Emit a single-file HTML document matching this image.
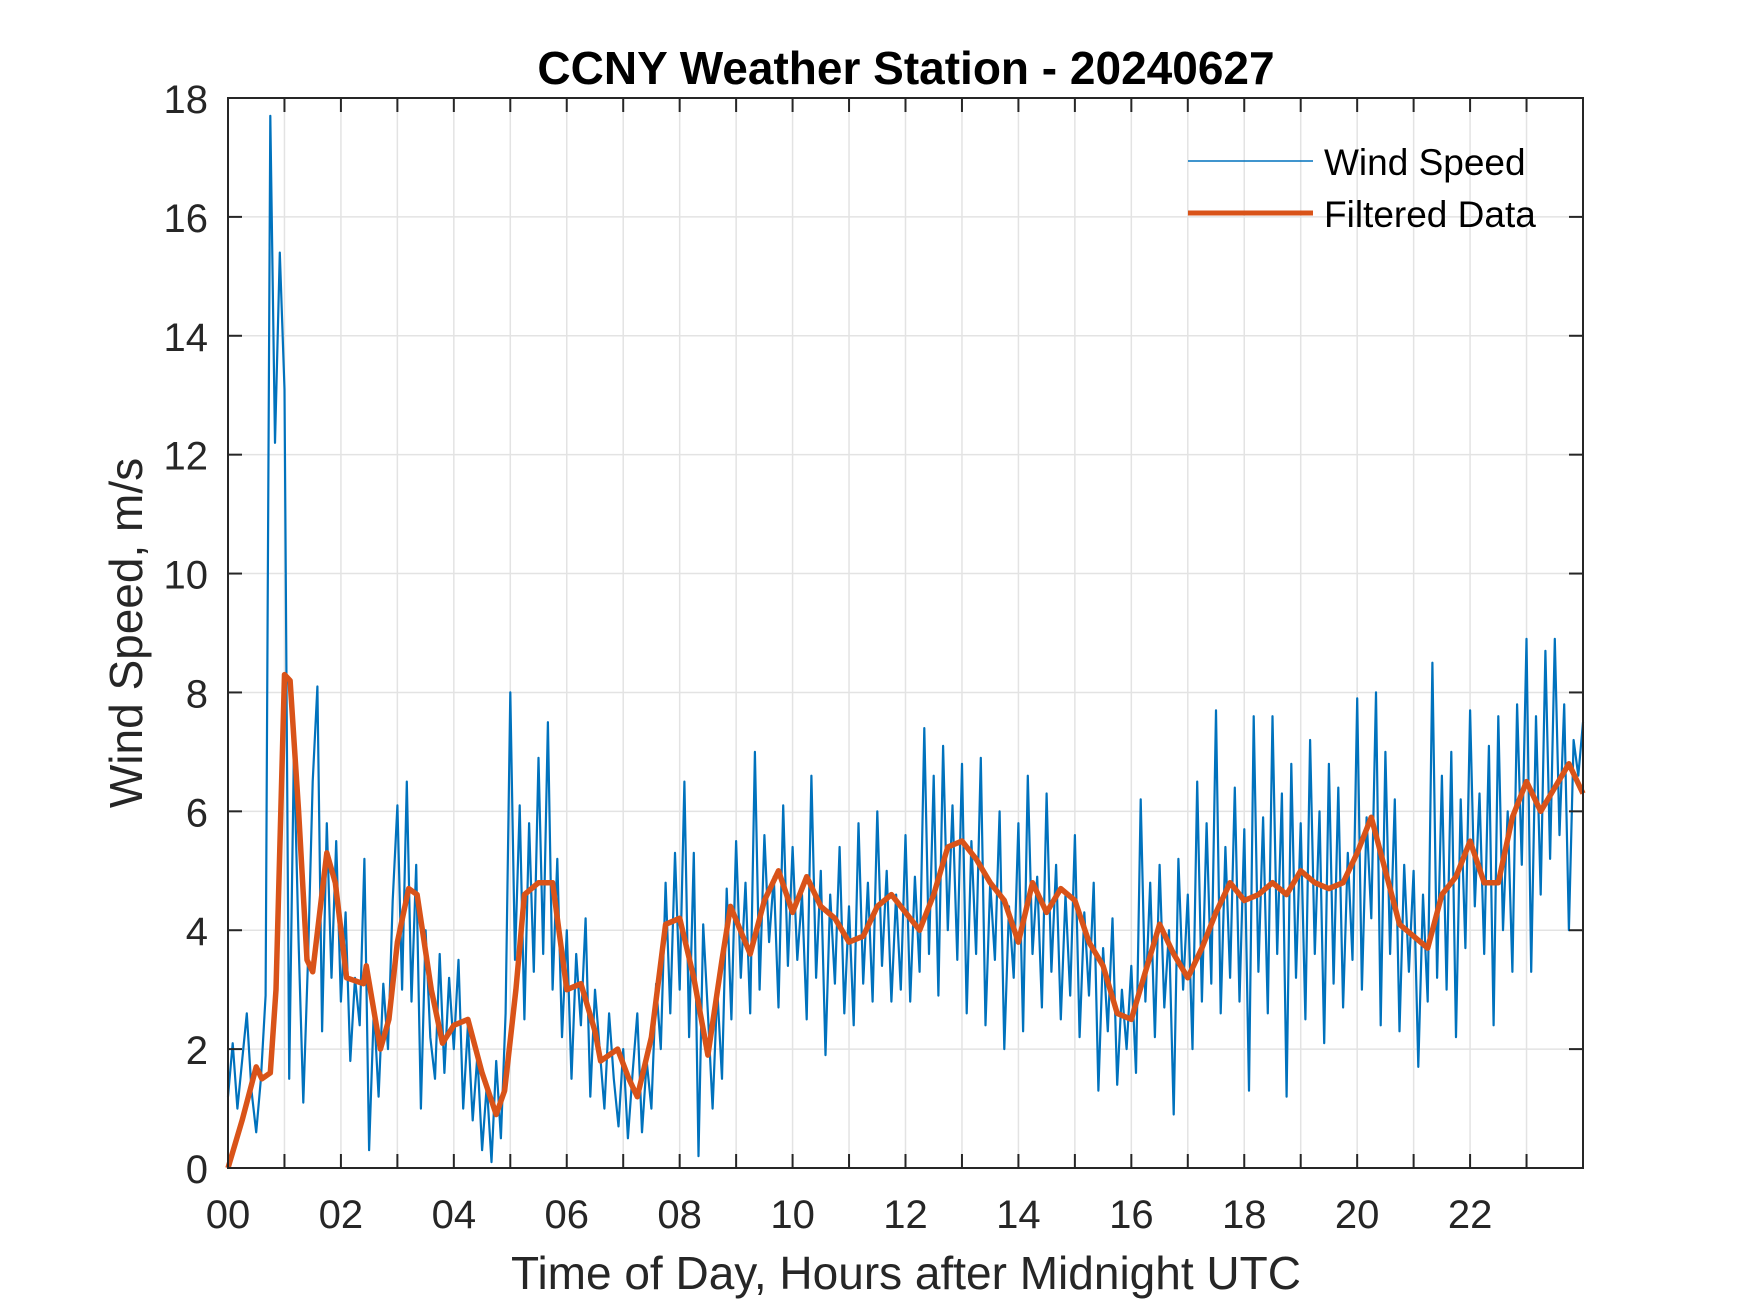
<!DOCTYPE html>
<html><head><meta charset="utf-8"><style>
html,body{margin:0;padding:0;background:#fff;}
svg{display:block;}
text{font-family:"Liberation Sans",Arial,sans-serif;fill:#262626;}
</style></head><body>
<svg id="chart" width="1750" height="1313" viewBox="0 0 1750 1313" xmlns="http://www.w3.org/2000/svg">
<rect width="1750" height="1313" fill="#fff"/>
<g id="grid"></g>
<g id="series"></g>
<g id="axes"></g>
<text x="906" y="84" text-anchor="middle" font-size="46" font-weight="bold" style="fill:#000">CCNY Weather Station - 20240627</text>
<text x="906" y="1289" text-anchor="middle" font-size="46">Time of Day, Hours after Midnight UTC</text>
<text transform="translate(142,633) rotate(-90)" text-anchor="middle" font-size="46">Wind Speed, m/s</text>
<g>
<line x1="1188" y1="161" x2="1313" y2="161" stroke="#0072BD" stroke-width="1.5"/>
<text x="1324" y="175" font-size="37" style="fill:#000">Wind Speed</text>
<line x1="1188" y1="213" x2="1313" y2="213" stroke="#D95319" stroke-width="5"/>
<text x="1324" y="227" font-size="37" style="fill:#000">Filtered Data</text>
</g>
</svg>
<script>
const rawValues = [
1.2,2.1,1.0,1.8,2.6,1.3,0.6,1.5,2.9,17.7,12.2,15.4,
13.1,1.5,7.0,3.8,1.1,3.5,6.5,8.1,2.3,5.8,3.2,5.5,
2.8,4.3,1.8,3.2,2.4,5.2,0.3,2.7,1.2,3.1,2.0,4.5,
6.1,3.0,6.5,2.8,5.1,1.0,4.0,2.2,1.5,3.6,1.6,3.2,
2.0,3.5,1.0,2.4,0.8,1.9,0.3,1.4,0.1,1.8,0.5,2.6,
8.0,3.5,6.1,2.5,5.8,3.3,6.9,3.6,7.5,3.0,5.2,2.2,
4.0,1.5,3.6,2.4,4.2,1.2,3.0,2.0,1.0,2.6,1.5,0.7,
2.0,0.5,1.6,2.6,0.6,1.8,1.0,3.1,2.0,4.8,2.6,5.3,
3.0,6.5,2.2,5.3,0.2,4.1,2.6,1.0,3.0,1.5,4.7,2.5,
5.5,3.2,4.8,2.6,7.0,3.0,5.6,3.8,4.9,2.7,6.1,3.4,
5.4,3.5,4.6,2.5,6.6,3.2,5.0,1.9,4.6,3.1,5.4,2.6,
4.4,2.4,5.8,3.1,4.8,2.8,6.0,3.4,5.0,2.8,4.6,3.0,
5.6,2.8,4.9,3.3,7.4,3.6,6.6,2.9,7.1,4.0,6.1,3.5,
6.8,2.6,5.5,3.6,6.9,2.4,4.8,3.5,6.0,2.0,4.4,3.2,
5.8,2.3,6.6,3.6,4.9,2.7,6.3,3.3,5.1,2.5,4.6,2.9,
5.6,2.2,4.3,2.9,4.8,1.3,3.7,2.3,4.2,1.4,3.0,2.0,
3.4,1.6,6.2,2.8,4.8,2.2,5.1,2.7,4.0,0.9,5.2,3.0,
4.6,2.0,6.5,2.8,5.8,3.1,7.7,2.6,5.4,3.2,6.4,2.8,
5.7,1.3,7.6,3.3,5.9,2.6,7.6,3.6,6.3,1.2,6.8,3.2,
5.8,2.5,7.2,3.6,6.0,2.1,6.8,3.1,6.4,2.7,5.3,3.5,
7.9,3.0,5.9,4.2,8.0,2.4,7.0,3.6,6.2,2.3,5.1,3.3,
5.0,1.7,4.6,2.8,8.5,3.2,6.6,3.0,7.0,2.2,6.2,3.7,
7.7,4.4,6.3,3.6,7.1,2.4,7.6,4.0,6.0,3.3,7.8,5.1,
8.9,3.3,7.6,4.6,8.7,5.2,8.9,5.6,7.8,4.0,7.2,6.6,
7.5];
const rawStepHours = 1/12;
const filtHours = [0,0.25,0.5,0.6,0.75,0.85,1.0,1.1,1.25,1.4,1.5,1.75,1.9,2.1,2.4,2.45,2.7,2.85,3.0,3.2,3.35,3.6,3.8,4.0,4.25,4.5,4.75,4.9,5.1,5.25,5.5,5.75,6.0,6.25,6.5,6.6,6.9,7.1,7.25,7.5,7.75,8.0,8.25,8.5,8.75,8.9,9.25,9.5,9.75,10.0,10.25,10.5,10.75,11.0,11.25,11.5,11.75,12.0,12.25,12.5,12.75,13.0,13.25,13.5,13.75,14.0,14.25,14.5,14.75,15.0,15.25,15.5,15.75,16.0,16.25,16.5,16.75,17.0,17.25,17.5,17.75,18.0,18.25,18.5,18.75,19.0,19.25,19.5,19.75,20.0,20.25,20.5,20.75,21.0,21.25,21.5,21.75,22.0,22.25,22.5,22.75,23.0,23.25,23.5,23.75,24];
const filtValues = [0,0.8,1.7,1.5,1.6,3.0,8.3,8.2,6.0,3.5,3.3,5.3,4.8,3.2,3.1,3.4,2.0,2.5,3.8,4.7,4.6,3.0,2.1,2.4,2.5,1.6,0.9,1.3,3.0,4.6,4.8,4.8,3.0,3.1,2.3,1.8,2.0,1.5,1.2,2.2,4.1,4.2,3.2,1.9,3.5,4.4,3.6,4.5,5.0,4.3,4.9,4.4,4.2,3.8,3.9,4.4,4.6,4.3,4.0,4.6,5.4,5.5,5.2,4.8,4.5,3.8,4.8,4.3,4.7,4.5,3.8,3.4,2.6,2.5,3.3,4.1,3.6,3.2,3.7,4.3,4.8,4.5,4.6,4.8,4.6,5.0,4.8,4.7,4.8,5.3,5.9,5.0,4.1,3.9,3.7,4.6,4.9,5.5,4.8,4.8,5.9,6.5,6.0,6.4,6.8,6.3];
const xTicks = [0,1,2,3,4,5,6,7,8,9,10,11,12,13,14,15,16,17,18,19,20,21,22,23];
const xTickLabels = ["00","","02","","04","","06","","08","","10","","12","","14","","16","","18","","20","","22",""];
const yTicks = [0,2,4,6,8,10,12,14,16,18];

const L=228,R=1583,T=98,B=1168,XMAX=24,YMAX=18;
const sx=h=>L+(R-L)*h/XMAX;
const sy=v=>B-(B-T)*v/YMAX;
const NS='http://www.w3.org/2000/svg';
function mk(tag,attrs,parent){const e=document.createElementNS(NS,tag);for(const k in attrs)e.setAttribute(k,attrs[k]);parent.appendChild(e);return e;}
const grid=document.getElementById('grid'),series=document.getElementById('series'),axes=document.getElementById('axes');
xTicks.forEach((h,i)=>{
  const g=mk('line',{x1:sx(h),x2:sx(h),y1:T,y2:B,stroke:'#e3e3e3','stroke-width':1.5},grid);
  
  
  const t1=mk('line',{x1:sx(h),x2:sx(h),y1:B,y2:B-14,stroke:'#262626','stroke-width':2},axes);
  
  
  const t2=mk('line',{x1:sx(h),x2:sx(h),y1:T,y2:T+14,stroke:'#262626','stroke-width':2},axes);
  
  
  if(xTickLabels[i]){const t=mk('text',{x:sx(h),y:1228,'text-anchor':'middle','font-size':40},axes);t.textContent=xTickLabels[i];
  
  }
});
yTicks.forEach(v=>{
  const g=mk('line',{x1:L,x2:R,y1:sy(v),y2:sy(v),stroke:'#e3e3e3','stroke-width':1.5},grid);
  
  
  const t1=mk('line',{x1:L,x2:L+14,y1:sy(v),y2:sy(v),stroke:'#262626','stroke-width':2},axes);
  
  
  const t2=mk('line',{x1:R,x2:R-14,y1:sy(v),y2:sy(v),stroke:'#262626','stroke-width':2},axes);
  
  
  const t=mk('text',{x:208,y:sy(v)+15,'text-anchor':'end','font-size':40},axes);t.textContent=v;
  
  
});
const box=mk('rect',{x:L,y:T,width:R-L,height:B-T,fill:'none',stroke:'#262626','stroke-width':2},axes);


const rawPts=rawValues.map((v,i)=>sx(Math.min(i*rawStepHours,XMAX)).toFixed(1)+','+sy(v).toFixed(1)).join(' ');
const raw=mk('polyline',{points:rawPts,fill:'none',stroke:'#0072BD','stroke-width':2.2,'stroke-linejoin':'round'},series);


const fPts=filtHours.map((h,i)=>sx(h).toFixed(1)+','+sy(filtValues[i]).toFixed(1)).join(' ');
const filt=mk('polyline',{points:fPts,fill:'none',stroke:'#D95319','stroke-width':5.5,'stroke-linejoin':'round'},series);


</script>
</body></html>
